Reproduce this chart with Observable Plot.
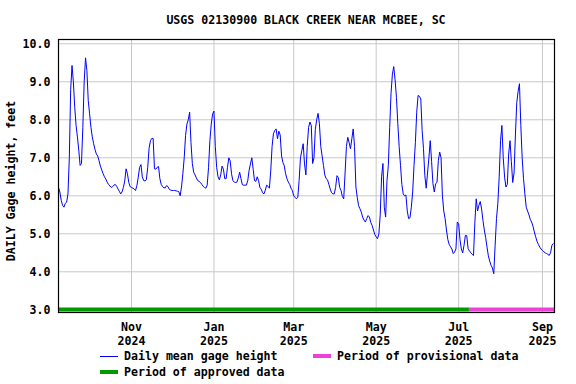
<!DOCTYPE html>
<html><head><meta charset="utf-8">
<script src="https://cdn.jsdelivr.net/npm/d3@7"></script>
<script src="https://cdn.jsdelivr.net/npm/@observablehq/plot@0.6"></script>
<style>
body{margin:0;background:#fff;}
#wrap{position:relative;width:576px;height:384px;font-family:"DejaVu Sans Mono",monospace;font-weight:bold;font-size:11.6px;color:#000;overflow:hidden;}
#title{position:absolute;left:58px;width:496px;top:13px;line-height:14px;text-align:center;white-space:pre;}
#chart{position:absolute;left:0;top:32px;}
.lt{position:absolute;line-height:16px;white-space:pre;}
.sw{position:absolute;width:18px;}
</style></head><body>
<div id="wrap">
  <div id="title"></div>
  <div id="chart"></div>
  <div id="legend"></div>
</div>
<script>
const titleText = "USGS 02130900 BLACK CREEK NEAR MCBEE, SC";
const yLabel = "DAILY Gage height, feet";
const startDate = "2024-09-08";   // first daily value
const endDate = "2025-09-09T22:00Z"; // right edge of the plot
// Daily mean gage height (ft), one value per day from startDate
const values = [
6.22,6.10,5.88,5.75,5.70,5.80,5.83,6.05,7.00,8.79,
9.43,9.00,8.33,7.85,7.55,7.20,6.80,6.85,7.80,9.00,
9.63,9.30,8.51,8.16,7.80,7.55,7.37,7.22,7.10,7.05,
6.92,6.78,6.68,6.58,6.50,6.44,6.36,6.30,6.26,6.22,
6.24,6.28,6.30,6.25,6.18,6.12,6.05,6.10,6.22,6.39,
6.71,6.58,6.35,6.24,6.22,6.20,6.18,6.14,6.27,6.49,
6.75,6.82,6.50,6.40,6.39,6.42,6.75,7.25,7.45,7.51,
7.51,6.71,6.70,6.75,6.77,6.45,6.30,6.24,6.21,6.21,
6.27,6.24,6.17,6.15,6.14,6.14,6.14,6.13,6.12,6.11,
6.00,6.23,6.58,7.00,7.59,7.89,8.00,8.20,7.40,6.85,
6.62,6.55,6.47,6.40,6.38,6.35,6.30,6.25,6.22,6.20,
6.28,6.75,7.45,7.89,8.15,8.23,7.30,6.75,6.50,6.42,
6.55,6.78,6.70,6.45,6.45,6.75,7.00,6.92,6.58,6.40,
6.36,6.35,6.36,6.47,6.62,6.45,6.29,6.28,6.28,6.28,
6.40,6.67,6.84,7.00,6.70,6.40,6.38,6.50,6.40,6.22,
6.17,6.08,6.05,6.15,6.28,6.25,6.20,6.65,7.30,7.63,
7.72,7.76,7.50,7.70,7.60,7.05,6.88,6.79,6.58,6.45,
6.36,6.30,6.20,6.14,6.00,5.96,5.92,5.96,6.40,7.00,
7.19,7.37,6.84,6.55,7.30,7.80,7.94,7.85,6.85,7.00,
7.75,8.00,8.17,7.90,7.30,7.05,6.80,6.55,6.45,6.42,
6.30,6.18,6.08,6.05,6.05,6.22,6.53,6.48,6.22,6.14,
5.98,5.92,6.60,7.30,7.54,7.40,7.24,7.50,7.76,7.30,
6.23,5.96,5.74,5.66,5.57,5.44,5.36,5.31,5.40,5.48,
5.44,5.30,5.22,5.10,4.98,4.92,4.87,5.00,5.50,6.50,
6.85,5.70,5.44,6.40,6.80,7.80,8.70,9.20,9.40,9.05,
8.59,7.90,7.30,6.80,6.30,6.05,6.00,6.02,5.60,5.40,
5.42,5.70,6.10,6.80,7.40,8.20,8.64,8.62,8.55,7.72,
7.24,6.53,6.20,6.60,7.00,7.45,6.90,6.32,6.10,6.32,
6.35,6.93,7.15,7.00,6.00,5.60,5.40,5.10,4.85,4.72,
4.66,4.60,4.48,4.52,4.60,5.31,5.27,4.85,4.60,4.50,
4.70,4.96,4.95,4.61,4.55,4.50,4.46,4.43,5.30,5.92,
5.60,5.75,5.85,5.65,5.35,5.10,4.90,4.65,4.42,4.28,
4.17,4.10,3.95,4.70,5.40,5.80,6.50,7.45,7.85,7.00,
6.49,6.23,6.30,7.10,7.45,6.90,6.35,6.60,7.60,8.45,
8.75,8.95,7.85,7.00,6.45,6.05,5.70,5.60,5.50,5.38,
5.31,5.20,5.05,4.92,4.80,4.72,4.65,4.60,4.56,4.53,
4.50,4.48,4.46,4.43,4.50,4.70,4.74
];
const tickDates = ["2024-11-01","2025-01-01","2025-03-01","2025-05-01","2025-07-01","2025-09-01"];
const tickLabels = ["Nov\n2024","Jan\n2025","Mar\n2025","May\n2025","Jul\n2025","Sep\n2025"];
const yTicks = [3,4,5,6,7,8,9,10];
const yDomain = [2.929, 10.113];
const periodNames = ["Period of approved data","Period of provisional data"];
const periodStarts = ["2024-09-08","2025-07-09"];
const periodEnds = ["2025-07-09","2025-09-09T22:00Z"];
const periodColors = ["#009a00","#ec42d8"];
const lineColor = "#0000ff";

const start = new Date(startDate + "T00:00Z");
const series = values.map((v, i) => ({date: d3.utcDay.offset(start, i), value: v}));
const ticks = tickDates.map(s => new Date(s + "T00:00Z"));
const labelMap = new Map(ticks.map((t, i) => [+t, tickLabels[i]]));
const toDate = s => new Date(s.includes("T") ? s : s + "T00:00Z");
const periods = periodNames.map((n, i) => ({name: n, start: toDate(periodStarts[i]), end: toDate(periodEnds[i]), color: periodColors[i]}));

document.getElementById("title").textContent = titleText;

const chart = Plot.plot({
  width: 576, height: 315,
  marginTop: 7, marginBottom: 35, marginLeft: 58, marginRight: 22,
  style: {fontFamily: "DejaVu Sans Mono, monospace", fontWeight: "bold", fontSize: "11.6px", color: "#000", background: "#fff", overflow: "visible"},
  x: {type: "utc", domain: [start, toDate(endDate)]},
  y: {domain: yDomain},
  color: {type: "identity"},
  marks: [
    Plot.gridY(yTicks, {stroke: "#c8c8c8", strokeOpacity: 1}),
    Plot.gridX(ticks, {stroke: "#c8c8c8", strokeOpacity: 1}),
    Plot.ruleY(periods, {y: () => yDomain[0], x1: "start", x2: "end", stroke: "color", strokeWidth: 4, dy: -3}),
    Plot.line(series, {x: "date", y: "value", stroke: lineColor, strokeWidth: 1}),
    Plot.frame({stroke: "#000", strokeWidth: 1.2}),
    Plot.axisY(yTicks, {tickSize: 0, tickPadding: 8, tickFormat: d3.format(".1f"), label: null}),
    Plot.axisX(ticks, {tickSize: 0, tickPadding: 9, tickFormat: d => labelMap.get(+d), lineHeight: 1.2, label: null}),
    Plot.text([yLabel], {text: d => d, frameAnchor: "left", textAnchor: "middle", lineAnchor: "middle", rotate: -90, dx: -47, dy: 5, fontWeight: "bold"})
  ]
});
document.getElementById("chart").appendChild(chart);

// legend (HTML, below the SVG)
const leg = document.getElementById("legend");
function item(swColor, swHeight, swLeft, swTop, text, textLeft, textTop) {
  const s = document.createElement("div");
  s.className = "sw";
  s.style.cssText = `left:${swLeft}px;top:${swTop}px;height:${swHeight}px;background:${swColor}`;
  leg.appendChild(s);
  const t = document.createElement("div");
  t.className = "lt";
  t.style.cssText = `left:${textLeft}px;top:${textTop}px`;
  t.textContent = text;
  leg.appendChild(t);
}
item(lineColor, 1, 100, 356, "Daily mean gage height", 124, 348);
item(periods[1].color, 4, 313, 354, periods[1].name, 337, 348);
item(periods[0].color, 4, 100, 370, periods[0].name, 124, 364);
</script>
</body></html>
